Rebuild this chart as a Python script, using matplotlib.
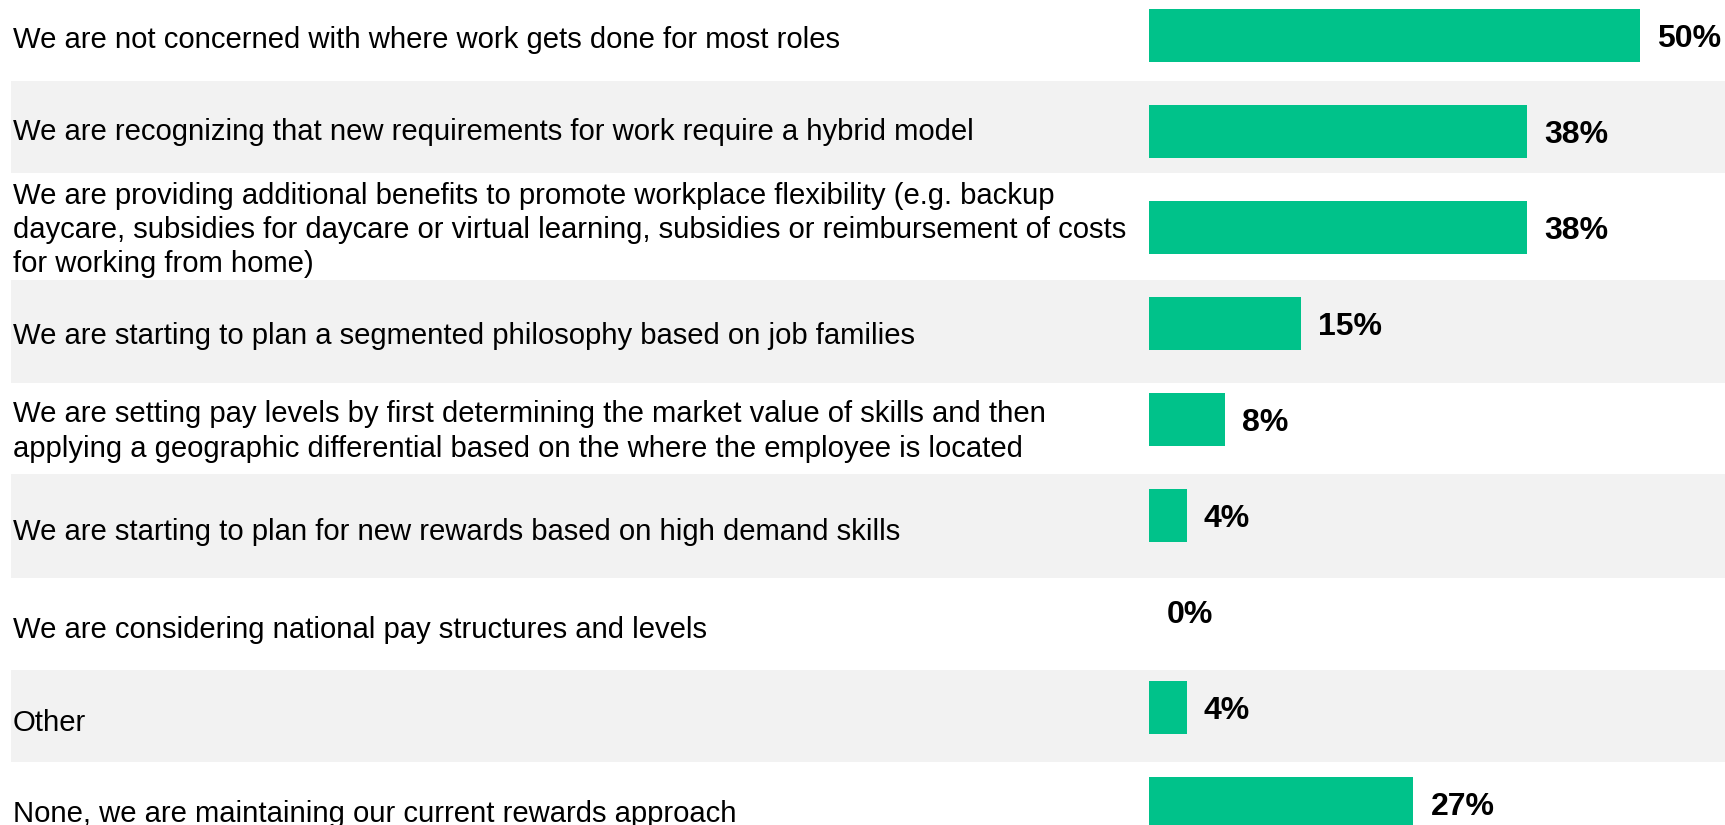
import matplotlib
matplotlib.use("Agg")
import matplotlib.pyplot as plt
import numpy as np

# Survey answers (n = 26) -- bar lengths
categories = [
    "We are not concerned with where work gets done for most roles",
    "We are recognizing that new requirements for work require a hybrid model",
    "We are providing additional benefits to promote workplace flexibility (e.g. backup\n"
    "daycare, subsidies for daycare or virtual learning, subsidies or reimbursement of costs\n"
    "for working from home)",
    "We are starting to plan a segmented philosophy based on job families",
    "We are setting pay levels by first determining the market value of skills and then\n"
    "applying a geographic differential based on the where the employee is located",
    "We are starting to plan for new rewards based on high demand skills",
    "We are considering national pay structures and levels",
    "Other",
    "None, we are maintaining our current rewards approach",
]
values = [50.0, 38.5, 38.5, 15.4, 7.7, 3.8, 0.0, 3.8, 26.9]
value_labels = ["50%", "38%", "38%", "15%", "8%", "4%", "0%", "4%", "27%"]

GREEN = "#00C28A"
BAND = "#F2F2F2"
W, H = 1725, 825

# label table layout (pixels, top-down)
band_rows = [(81, 173), (280, 383), (474, 578), (670, 762)]
label_y = [40, 132, 230, 336.5, 431.5, 532, 630, 723, 814]

plt.rcParams["font.family"] = ["Liberation Sans", "DejaVu Sans"]

fig = plt.figure(figsize=(W / 100, H / 100), dpi=100, facecolor="white")

# background table: shaded bands + row labels
bg = fig.add_axes([0, 0, 1, 1])
bg.set_xlim(0, W)
bg.set_ylim(H, 0)
bg.axis("off")
for y0, y1 in band_rows:
    bg.axhspan(y0, y1, xmin=11 / W, xmax=1, color=BAND, lw=0, zorder=0)
for y, lab in zip(label_y, categories):
    bg.text(12.7, y, lab, va="center", ha="left", fontsize=21.1,
            color="black", linespacing=1.28)

# bar chart on top
x0_px = 1149.3
px_per_pct = 9.82
pitch = 96.0
first_center = 35.5
ax = fig.add_axes([x0_px / W, 0, 1 - x0_px / W, 1])
ax.patch.set_alpha(0)
ypos = np.arange(len(values))
ax.barh(ypos, values, height=53 / pitch, color=GREEN, lw=0)
ax.set_xlim(0, (W - x0_px) / px_per_pct)
ax.set_ylim(len(values) - 1 + (H - (first_center + pitch * (len(values) - 1))) / pitch,
            -first_center / pitch)
ax.axis("off")
for y, v, lab in zip(ypos, values, value_labels):
    ax.text(v + 17 / px_per_pct, y, lab, va="center_baseline", ha="left",
            fontsize=23, fontweight="bold", color="black")

fig.savefig("out.png", dpi=100)
